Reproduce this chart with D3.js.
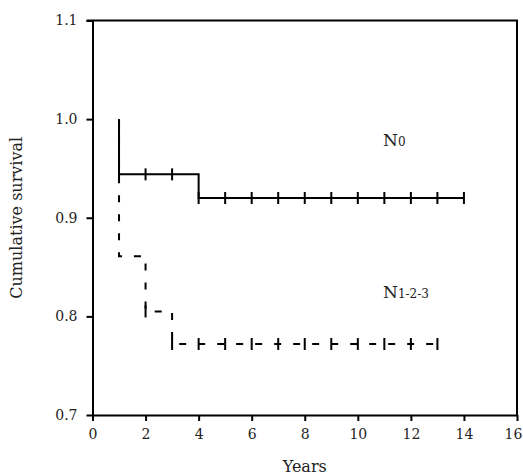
<!DOCTYPE html>
<html>
<head>
<meta charset="utf-8">
<script src="https://cdn.jsdelivr.net/npm/d3@7"></script>
<style>
  body { margin: 0; background: #fff; }
  svg, svg text { font-family: "DejaVu Serif", "Liberation Serif", serif; }
</style>
</head>
<body>
<script>
// * DATA
const xTicks = [0, 2, 4, 6, 8, 10, 12, 14, 16];
const yTicks = [0.7, 0.8, 0.9, 1.0, 1.1];

// N0 step curve (time, survival)
const n0Times = [1, 1, 4, 14];
const n0Surv = [1.0, 0.944, 0.92, 0.92];
const n0Censor = [1, 2, 3, 4, 5, 6, 7, 8, 9, 10, 11, 12, 13, 14];

// N1-2-3 step curve
const n123Times = [1, 1, 2, 3, 13];
const n123Surv = [1.0, 0.861, 0.805, 0.772, 0.772];
const n123Censor = [2, 3, 4, 5, 6, 7, 8, 9, 10, 11, 12, 13];

// * SETUP
const width = 523;
const height = 476;
const margin = { top: 20.5, right: 6, bottom: 61, left: 92.5 };

const x = d3.scaleLinear().domain([0, 16]).range([margin.left, width - margin.right]);
const y = d3.scaleLinear().domain([0.7, 1.1]).range([height - margin.bottom, margin.top]);

const svg = d3
  .select("body")
  .append("svg")
  .attr("width", width)
  .attr("height", height)
  .attr("viewBox", [0, 0, width, height]);

// survival value at time t (step after)
function survAt(times, surv, t) {
  let s = surv[0];
  for (let i = 0; i < times.length; i++) {
    if (times[i] <= t) s = surv[i];
  }
  return s;
}

// * FRAME (top + right)
svg.append("path")
  .attr("d", `M${x(0) - 6},${y(1.1)}H${x(16)}V${y(0.7)}`)
  .attr("fill", "none")
  .attr("stroke", "#000")
  .attr("stroke-width", 2);

// * AXES
const styleAxis = (g) => {
  g.attr("font-family", null).attr("font-size", null);
  g.select(".domain").attr("stroke-width", 2);
  g.selectAll(".tick line").attr("stroke-width", 2);
  g.selectAll(".tick text")
    .attr("fill", "#222")
    .style("font-size", "14px")
    .style("font-family", "'DejaVu Serif', serif");
};

svg.append("g")
  .attr("transform", `translate(0,${y(0.7)})`)
  .call(d3.axisBottom(x).tickValues(xTicks).tickSize(6).tickSizeOuter(0).tickPadding(8))
  .call(styleAxis)
  // last label sits against the page edge
  .call((g) => g.selectAll(".tick text").filter((d) => d === 16).attr("dx", -4));

svg.append("g")
  .attr("transform", `translate(${x(0)},0)`)
  .call(d3.axisLeft(y).tickValues(yTicks).tickFormat(d3.format(".1f")).tickSize(6).tickSizeOuter(0).tickPadding(9))
  .call(styleAxis);

// axis titles
svg.append("text")
  .attr("x", (x(0) + x(16)) / 2)
  .attr("y", 472)
  .attr("text-anchor", "middle")
  .attr("font-size", 16)
  .attr("fill", "#222")
  .text("Years");

svg.append("text")
  .attr("transform", `translate(22,${(y(0.7) + y(1.1)) / 2}) rotate(-90)`)
  .attr("text-anchor", "middle")
  .attr("font-size", 16)
  .attr("fill", "#222")
  .text("Cumulative survival");

// * CURVES
const line = d3.line()
  .x((d) => x(d[0]))
  .y((d) => y(d[1]))
  .curve(d3.curveStepAfter);

svg.append("path")
  .datum(d3.zip(n123Times, n123Surv))
  .attr("fill", "none")
  .attr("stroke", "#000")
  .attr("stroke-width", 2)
  .attr("stroke-dasharray", "7,12")
  .attr("d", line);

svg.append("path")
  .datum(d3.zip(n0Times, n0Surv))
  .attr("fill", "none")
  .attr("stroke", "#000")
  .attr("stroke-width", 2)
  .attr("d", line);

// censor marks
function censor(times, surv, ct) {
  svg.append("g")
    .selectAll("line")
    .data(ct)
    .join("line")
    .attr("x1", (d) => x(d))
    .attr("x2", (d) => x(d))
    .attr("y1", (d) => y(survAt(times, surv, d)) - 6)
    .attr("y2", (d) => y(survAt(times, surv, d)) + 6)
    .attr("stroke", "#000")
    .attr("stroke-width", 2);
}
censor(n0Times, n0Surv, n0Censor);
censor(n123Times, n123Surv, n123Censor);

// * LABELS
const lab0 = svg.append("text")
  .attr("x", x(10.95))
  .attr("y", y(0.973))
  .attr("font-size", 17)
  .attr("fill", "#222");
lab0.append("tspan").text("N");
lab0.append("tspan").attr("font-size", 12).text("0");

const lab1 = svg.append("text")
  .attr("x", x(10.95))
  .attr("y", y(0.819))
  .attr("font-size", 17)
  .attr("fill", "#222");
lab1.append("tspan").text("N");
lab1.append("tspan").attr("font-size", 12).text("1-2-3");
</script>
</body>
</html>
